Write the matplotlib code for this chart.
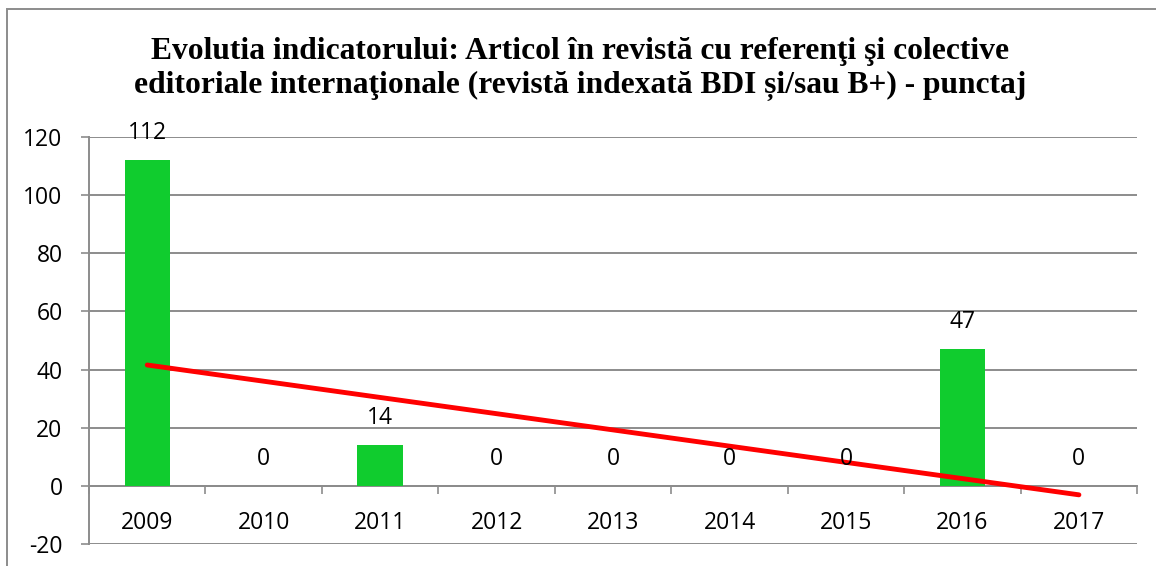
import numpy as np
import matplotlib.pyplot as plt
from matplotlib.patches import Rectangle

# --- data ---
years = ['2009', '2010', '2011', '2012', '2013', '2014', '2015', '2016', '2017']
scores = [112, 0, 14, 0, 0, 0, 0, 47, 0]
y_ticks = [-20, 0, 20, 40, 60, 80, 100, 120]

title = ('Evolutia indicatorului: Articol în revistă cu referenţi şi colective\n'
         'editoriale internaţionale (revistă indexată BDI și/sau B+) - punctaj')

x = np.arange(len(years))
# linear trend line (least squares fit)
slope, intercept = np.polyfit(x, scores, 1)
trend = slope * x + intercept

fig = plt.figure(figsize=(11.56, 5.66), dpi=100)
ax = fig.add_axes([0.077, 0.039, 0.9067, 0.719])

label_font = 'Open Sans'
label_size = 16.5
grid_col = '#8c8c8c'

ax.bar(x, scores, width=0.39, color='#10cc2e', zorder=3)
ax.plot(x, trend, color='#ff0000', lw=3.5, solid_capstyle='round', zorder=4)

for xi, v in zip(x, scores):
    ax.annotate(str(v), (xi, v), xytext=(0, 19.5), textcoords='offset points',
                ha='center', va='center', fontsize=label_size, family=label_font, zorder=5)

ax.set_xlim(-0.5, len(years) - 0.5)
ax.set_ylim(-20, 120)
ax.set_yticks(y_ticks)
ax.set_yticklabels([str(t) for t in y_ticks], family=label_font, fontsize=label_size)
ax.yaxis.grid(True, color=grid_col, lw=1.4, zorder=0)
ax.tick_params(axis='y', length=6, width=1.2, color=grid_col, pad=13)

# category axis sitting on zero, ticks between categories
ax.spines['bottom'].set_position(('data', 0))
ax.spines['bottom'].set_color(grid_col)
ax.spines['bottom'].set_linewidth(1.4)
ax.spines['bottom'].set_zorder(2)
ax.set_xticks(np.arange(-0.5, len(years), 1))
ax.set_xticklabels([])
ax.set_xticks(x, minor=True)
ax.set_xticklabels(years, minor=True, family=label_font, fontsize=label_size)
ax.tick_params(axis='x', which='major', length=6, width=1.2, color=grid_col, direction='out')
ax.tick_params(axis='x', which='minor', length=0, pad=18.5)

ax.spines['left'].set_color(grid_col)
ax.spines['left'].set_linewidth(1.4)
ax.spines['right'].set_visible(False)
ax.spines['top'].set_visible(False)

fig.text(0.502, 0.878, title, ha='center', va='center', fontsize=22.7, fontweight='bold',
         family='Liberation Serif', linespacing=1.2)

# outer chart frame
fig.patches.append(Rectangle((0.006, -0.1), 1.1, 1.084, transform=fig.transFigure,
                             fill=False, edgecolor='#8c8c8c', lw=1.4))

plt.savefig('out.png', dpi=100)
